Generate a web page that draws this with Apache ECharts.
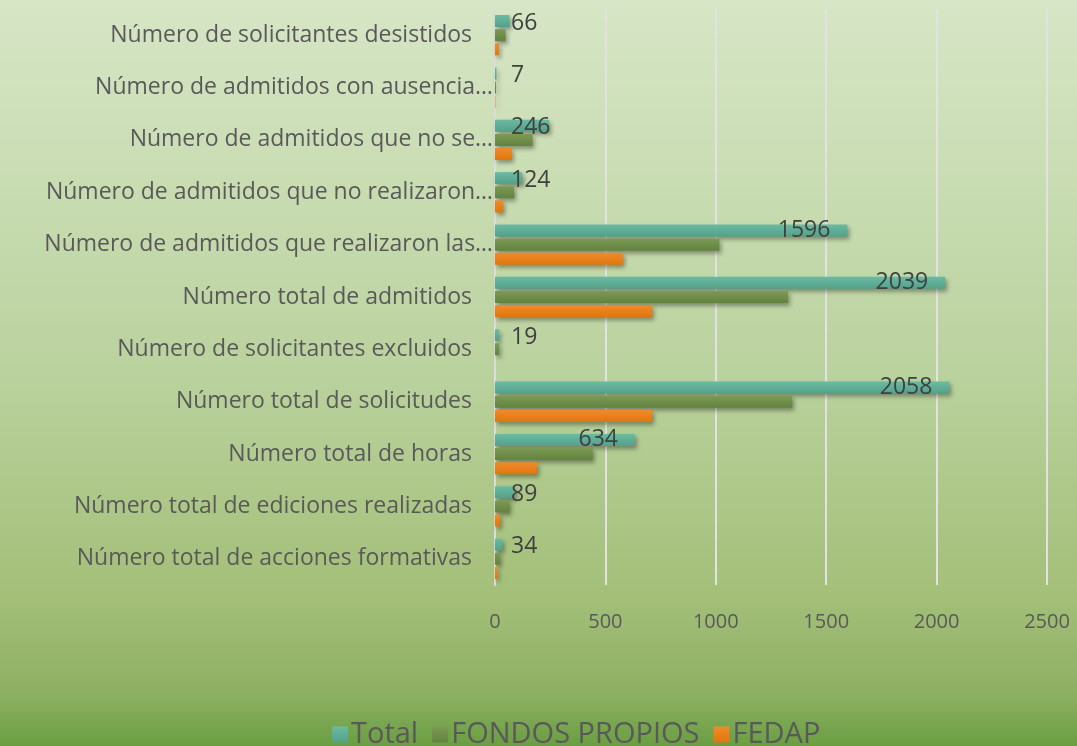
<!DOCTYPE html>
<html>
<head>
<meta charset="utf-8">
<script src="https://cdn.jsdelivr.net/npm/echarts@6/dist/echarts.min.js"></script>
<style>
  html, body { margin: 0; padding: 0; }
  #chart { width: 1077px; height: 746px; }
</style>
</head>
<body>
<div id="chart"></div>
<script>
// categories listed bottom to top (category axis order)
var categories = [
    'Número total de acciones formativas',
    'Número total de ediciones realizadas',
    'Número total de horas',
    'Número total de solicitudes',
    'Número de solicitantes excluidos',
    'Número total de admitidos',
    'Número de admitidos que realizaron las…',
    'Número de admitidos que no realizaron…',
    'Número de admitidos que no se…',
    'Número de admitidos con ausencia…',
    'Número de solicitantes desistidos'
];
var total         = [34, 89, 634, 2058, 19, 2039, 1596, 124, 246, 7, 66];
var fondosPropios = [22, 66, 443, 1346, 19, 1327, 1016, 87, 170, 5, 48];
var fedap         = [12, 23, 191, 712, 0, 712, 580, 37, 76, 2, 18];
var xTicks = [0, 500, 1000, 1500, 2000, 2500];

var FONT = "'Open Sans', 'DejaVu Sans', sans-serif";
var TXT = '#595959';

function grad(c1, c2) {
    return new echarts.graphic.LinearGradient(0, 0, 0, 1, [
        {offset: 0, color: c1}, {offset: 1, color: c2}
    ]);
}

var barShadow = {
    shadowBlur: 4,
    shadowOffsetX: 2,
    shadowOffsetY: 3,
    shadowColor: 'rgba(0,0,0,0.35)'
};

var chart = echarts.init(document.getElementById('chart'));

var option = {
    backgroundColor: {
        type: 'linear', x: 0, y: 0, x2: 0, y2: 1,
        colorStops: [
            {offset: 0, color: '#d7e6c6'},
            {offset: 0.5, color: '#bad29e'},
            {offset: 0.8, color: '#a3bf78'},
            {offset: 0.93, color: '#8eb063'},
            {offset: 1, color: '#6a9e42'}
        ]
    },
    textStyle: {fontFamily: FONT},
    legend: {
        data: ['Total', 'FONDOS PROPIOS', 'FEDAP'],
        left: 327,
        top: 715,
        itemWidth: 16,
        itemHeight: 16,
        itemGap: 14,
        icon: 'rect',
        textStyle: {color: TXT, fontSize: 29, fontFamily: FONT, padding: [0, 0, 0, -2]}
    },
    grid: {
        left: 495,
        right: 30,
        top: 9,
        bottom: 161,
        containLabel: false
    },
    xAxis: {
        type: 'value',
        min: xTicks[0],
        max: xTicks[xTicks.length - 1],
        interval: 500,
        axisLine: {show: false},
        axisTick: {show: false},
        axisLabel: {
            color: TXT, fontSize: 20, margin: 27, fontFamily: FONT,
            formatter: function (v) { return String(v); }
        },
        splitLine: {lineStyle: {color: '#e2e2e2', width: 2}}
    },
    yAxis: {
        type: 'category',
        data: categories,
        axisTick: {show: false},
        axisLine: {lineStyle: {color: '#dcdcdc', width: 2}},
        axisLabel: {
            color: TXT,
            fontSize: 23,
            fontFamily: FONT,
            margin: 2,
            formatter: function (v) {
                return v.charAt(v.length - 1) === '…' ? v : '{p|' + v + '}';
            },
            rich: {
                p: {color: TXT, fontSize: 23, fontFamily: FONT, padding: [0, 21, 0, 0]}
            }
        }
    },
    series: [
        {
            name: 'Total',
            type: 'bar',
            barWidth: 12,
            barGap: '18%',
            itemStyle: Object.assign({color: grad('#6bbba2', '#52a188')}, barShadow),
            data: total.map(function (v) {
                return {
                    value: v,
                    label: v > 500
                        ? {position: 'insideRight', distance: 17}
                        : {position: 'insideLeft', distance: 0, offset: [16, 2]}
                };
            }),
            label: {
                show: true,
                color: '#404040',
                fontSize: 23,
                fontFamily: FONT
            }
        },
        {
            name: 'FONDOS PROPIOS',
            type: 'bar',
            data: fondosPropios,
            barWidth: 12,
            barGap: '18%',
            itemStyle: Object.assign({color: grad('#7a9a55', '#63823f')}, barShadow)
        },
        {
            name: 'FEDAP',
            type: 'bar',
            data: fedap,
            barWidth: 12,
            barGap: '18%',
            itemStyle: Object.assign({color: grad('#f08a2a', '#e0760c')}, barShadow)
        }
    ]
};

chart.setOption(option);
</script>
</body>
</html>
